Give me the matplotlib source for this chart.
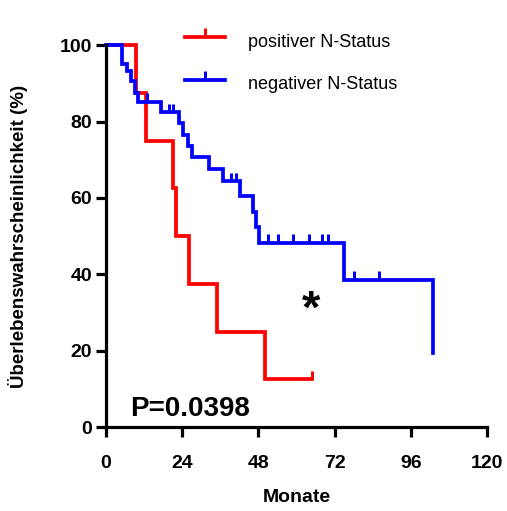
import matplotlib
matplotlib.use("Agg")
import matplotlib.pyplot as plt
import numpy as np

plt.rcParams['font.family'] = ['Liberation Sans', 'DejaVu Sans']

# Kaplan-Meier steps (months, survival %)
pos_times = [0, 9.5, 12.5, 21.0, 22.0, 26.0, 35.0, 50.0, 65.0]
pos_surv = [100, 87.5, 75.0, 62.5, 50.0, 37.5, 25.0, 12.5, 12.5]
pos_censor = [65.0]

neg_times = [0, 5.2, 6.6, 7.9, 9.0, 10.0, 17.2, 23.0, 24.3, 25.8, 27.0, 32.6,
             36.8, 42.2, 46.2, 47.2, 48.2, 75.0, 103.0]
neg_surv = [100, 95.1, 93.2, 90.5, 87.6, 85.2, 82.4, 79.5, 76.6, 73.7, 70.6, 67.6,
            64.4, 60.5, 56.4, 52.4, 48.3, 38.6, 19.3]
neg_censor = [12.8, 19.8, 21.0, 39.5, 41.0, 51.1, 54.1, 59.0, 64.0, 68.0, 70.0, 78.0, 86.0]

labels = ["positiver N-Status", "negativer N-Status"]
p_text = "P=0.0398"
xticks = [0, 24, 48, 72, 96, 120]
yticks = [0, 20, 40, 60, 80, 100]


def level_at(times, surv, t):
    idx = np.searchsorted(times, t, side='right') - 1
    return surv[idx]


fig = plt.figure(figsize=(5.07, 5.11), dpi=100)
ax = fig.add_axes([0.209, 0.164, 0.7515, 0.7476])

lw = 2.7
for times, surv, cens, color, lab in [
    (pos_times, pos_surv, pos_censor, '#ff0000', labels[0]),
    (neg_times, neg_surv, neg_censor, '#0000ff', labels[1]),
]:
    ax.step(times, surv, where='post', color=color, lw=lw, clip_on=False,
            solid_joinstyle='miter', label=lab)
    for c in cens:
        y = level_at(times, surv, c)
        ax.plot([c, c], [y, y + 2.2], color=color, lw=lw * 0.8, clip_on=False,
                solid_capstyle='butt')

ax.set_xlim(0, 120)
ax.set_ylim(0, 100)
ax.set_xticks(xticks)
ax.set_yticks(yticks)
ax.tick_params(width=2.3, length=7, labelsize=14)
ax.tick_params(axis='x', pad=13)
ax.tick_params(axis='y', pad=3)
for lab in ax.get_xticklabels() + ax.get_yticklabels():
    lab.set_fontweight('bold')
for s in ['top', 'right']:
    ax.spines[s].set_visible(False)
for s in ['left', 'bottom']:
    ax.spines[s].set_linewidth(2.3)

ax.set_xlabel("Monate", fontsize=14, fontweight='bold', va='top')
ax.xaxis.set_label_coords(0.5, -0.162)
ax.set_ylabel("Überlebenswahrscheinlichkeit (%)", fontsize=13.5, fontweight='bold')
ax.yaxis.set_label_coords(-0.205, 0.5)

ax.text(7.5, 3, p_text, fontsize=20, fontweight='bold', ha='left', va='baseline')
ax.text(64.5, 30.5, "*", fontsize=34, fontweight='bold', ha='center', va='center')

# legend drawn like GraphPad: short line with a censor tick, then the label
for (x0, x1), y, color, lab in [((25, 37.5), 102.1, '#ff0000', labels[0]),
                                ((25, 37.5), 90.9, '#0000ff', labels[1])]:
    ax.plot([x0, x1], [y, y], color=color, lw=lw, clip_on=False)
    xm = (x0 + x1) / 2
    ax.plot([xm, xm], [y, y + 2.4], color=color, lw=lw * 0.8, clip_on=False,
            solid_capstyle='butt')
    ax.text(44.7, y - 1.3, lab, fontsize=13, ha='left', va='center')

fig.savefig("out.png", dpi=100)
